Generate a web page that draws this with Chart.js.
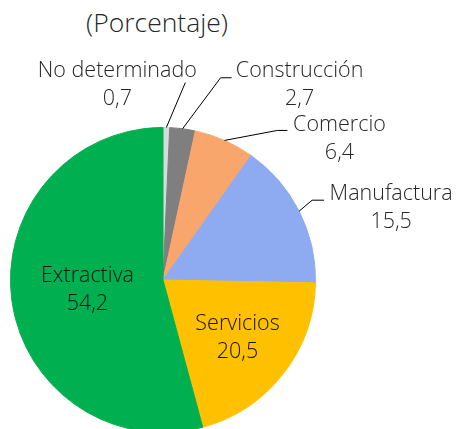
<!DOCTYPE html>
<html>
<head>
<meta charset="utf-8">
<script src="https://cdn.jsdelivr.net/npm/chart.js@4"></script>
<style>
  html, body { margin: 0; padding: 0; background: #fff; overflow: hidden; }
  body { width: 457px; height: 429px; position: relative; }
  #title {
    position: absolute; left: 0; top: 4px; width: 314px; text-align: center;
    font-family: "Open Sans", sans-serif; font-weight: 300; font-size: 26.5px; color: #262626;
  }
  #wrap { position: absolute; left: 0; top: 0; width: 457px; height: 440px; }
</style>
</head>
<body>
<div id="title">(Porcentaje)</div>
<div id="wrap"><canvas id="pie"></canvas></div>
<script>
// Data
const sectors = ['No determinado', 'Construcción', 'Comercio', 'Manufactura', 'Servicios', 'Extractiva'];
const shares = [0.7, 2.7, 6.4, 15.5, 20.5, 54.2];
const sliceColors = ['#d9d9d9', '#7f7f7f', '#f8a66c', '#8eaaf0', '#ffc000', '#00b050'];

// label placement: inside (fraction of radius) or outside (offsets from slice edge)
const labelPlaces = [
    { out: true, tx: -49, ty: -43, line: [[19, -45]] },
    { out: true, tx: 117, ty: -44, line: [[38, -51], [49, -51]] },
    { out: true, tx: 115, ty: -2, line: [[53, -10], [63, -10]] },
    { out: true, tx: 92, ty: -3, line: [[13, -11], [25, -11]] },
    { out: false, frac: 0.62 },
    { out: false, frac: 0.5 }
];

const fmt = v => v.toFixed(1).replace('.', ',');

const pieLabels = {
    id: 'pieLabels',
    afterDatasetsDraw(chart) {
        const ctx = chart.ctx;
        const meta = chart.getDatasetMeta(0);
        ctx.save();
        ctx.font = '300 21.5px "Open Sans", sans-serif';
        ctx.textAlign = 'center';
        ctx.textBaseline = 'middle';
        meta.data.forEach((arc, i) => {
            const p = arc.getProps(['x', 'y', 'startAngle', 'endAngle', 'outerRadius'], true);
            const mid = (p.startAngle + p.endAngle) / 2;
            const place = labelPlaces[i];
            let cx, cy;
            if (place.out) {
                const ex = p.x + Math.cos(mid) * p.outerRadius;
                const ey = p.y + Math.sin(mid) * p.outerRadius;
                ctx.strokeStyle = '#000';
                ctx.lineWidth = 1;
                ctx.beginPath();
                ctx.moveTo(ex, ey);
                place.line.forEach(pt => ctx.lineTo(ex + pt[0], ey + pt[1]));
                ctx.stroke();
                cx = ex + place.tx;
                cy = ey + place.ty;
                ctx.fillStyle = '#262626';
            } else {
                cx = p.x + Math.cos(mid) * p.outerRadius * place.frac;
                cy = p.y + Math.sin(mid) * p.outerRadius * place.frac;
                ctx.fillStyle = '#111';
            }
            ctx.fillText(sectors[i], cx, cy - 14);
            ctx.fillText(fmt(shares[i]), cx, cy + 14);
        });
        ctx.restore();
    }
};

new Chart(document.getElementById('pie'), {
    type: 'pie',
    data: {
        labels: sectors,
        datasets: [{
            data: shares,
            backgroundColor: sliceColors,
            borderColor: sliceColors,
            borderWidth: 1
        }]
    },
    options: {
        responsive: true,
        maintainAspectRatio: false,
        animation: false,
        layout: { padding: { left: 10, right: 141, top: 127, bottom: 7 } },
        plugins: { legend: { display: false }, tooltip: { enabled: false } }
    },
    plugins: [pieLabels]
});
</script>
</body>
</html>
